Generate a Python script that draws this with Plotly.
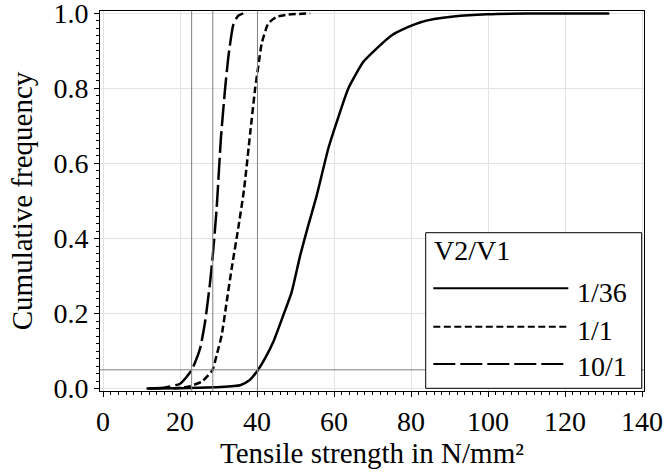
import plotly.graph_objects as go

# ---- data ----
series_names = ["1/36", "1/1", "10/1"]

x_1_36 = [11.3, 20.0, 25.0, 30.4, 35.6, 38.0, 40.2, 42.2, 44.2, 46.8, 49.0, 51.2, 53.3,
          55.5, 58.5, 60.7, 63.7, 67.6, 71.1, 75.0, 79.3, 82.3, 86.0, 91.0, 99.7, 110.0, 131.5]
y_1_36 = [0.0, 0.001, 0.002, 0.004, 0.009, 0.022, 0.049, 0.083, 0.124, 0.195, 0.258, 0.355, 0.435,
          0.515, 0.64, 0.711, 0.8, 0.871, 0.907, 0.942, 0.964, 0.976, 0.985, 0.992, 0.998, 1.0, 1.0]

x_1_1 = [18.3, 21.7, 25.6, 28.4, 29.5, 30.8, 32.1, 33.4, 35.1, 36.6, 38.2, 39.5, 40.3,
         41.2, 42.9, 45.1, 48.0, 53.8]
y_1_1 = [0.0, 0.004, 0.018, 0.049, 0.089, 0.142, 0.231, 0.32, 0.427, 0.53, 0.68, 0.8, 0.858,
         0.92, 0.973, 0.991, 0.997, 1.0]

x_10_1 = [11.8, 15.7, 20.0, 23.0, 25.2, 26.5, 27.8, 28.5, 29.5, 30.6, 31.7, 32.6, 33.8, 35.0, 36.4]
y_10_1 = [0.0, 0.002, 0.013, 0.049, 0.107, 0.178, 0.284, 0.355, 0.48, 0.667, 0.8, 0.889, 0.969, 0.993, 1.0]

quantile_5pct = [23.0, 28.5, 40.1]   # 5 % quantiles (vertical reference lines)
level_5pct = 0.05                   # horizontal reference line

x_ticks = [0, 20, 40, 60, 80, 100, 120, 140]
y_ticks = [0.0, 0.2, 0.4, 0.6, 0.8, 1.0]

# ---- styling ----
FONT = "Liberation Serif"
FS = 28
dashes = ["solid", "7px,3.5px", "22px,5px"]
font_main = dict(family=FONT, size=FS, color="black")
font_title = dict(family=FONT, size=29, color="black")

fig = go.Figure()
for name, xs, ys, dash in zip(series_names,
                              [x_1_36, x_1_1, x_10_1],
                              [y_1_36, y_1_1, y_10_1],
                              dashes):
    fig.add_trace(go.Scatter(x=xs, y=ys, mode="lines", name=name,
                             line=dict(color="black", width=2.5, dash=dash,
                                       shape="spline", smoothing=0.5),
                             showlegend=False))

# reference lines
for q in quantile_5pct:
    fig.add_shape(type="line", xref="x", yref="paper", x0=q, x1=q, y0=0, y1=1,
                  line=dict(color="#808080", width=1), layer="above")
fig.add_shape(type="line", xref="paper", yref="y", x0=0, x1=1, y0=level_5pct, y1=level_5pct,
              line=dict(color="#808080", width=1), layer="above")

# manual legend (long line samples as in the reference)
fig.add_shape(type="rect", xref="paper", yref="paper", x0=0.5987, x1=0.9958, y0=0.0071, y1=0.4166,
              line=dict(color="black", width=1), fillcolor="white", layer="above")
fig.add_annotation(xref="paper", yref="paper", x=0.6103, y=0.371, text="V2/V1", showarrow=False,
                   xanchor="left", yanchor="middle", font=font_main)
leg_line_y = [0.2703, 0.1692, 0.0711]
leg_text_y = [0.2597, 0.1605, 0.0632]
for name, dash, ly, ty in zip(series_names, dashes, leg_line_y, leg_text_y):
    fig.add_shape(type="line", xref="paper", yref="paper", x0=0.6127, x1=0.8608, y0=ly, y1=ly,
                  line=dict(color="black", width=2, dash=dash), layer="above")
    fig.add_annotation(xref="paper", yref="paper", x=0.8732, y=ty, text=name, showarrow=False,
                       xanchor="left", yanchor="middle", font=font_main)

axis_common = dict(showline=True, linecolor="black", linewidth=1, mirror=True,
                   showgrid=True, gridcolor="#e3e3e3", gridwidth=1, zeroline=False,
                   ticks="outside", ticklen=5, tickcolor="black", tickwidth=1,
                   automargin=False, ticklabeloverflow="allow", tickfont=font_main)

fig.update_xaxes(range=[-0.8, 140.5], tickmode="array", tickvals=x_ticks,
                 ticktext=[str(v) for v in x_ticks],
                 minor=dict(ticks="outside", ticklen=3, dtick=2, tick0=0, tickcolor="black", showgrid=False),
                 title=dict(text="Tensile strength in N/mm²", font=font_title, standoff=2),
                 **axis_common)
fig.update_yaxes(range=[-0.0065, 1.0065], tickmode="array", tickvals=y_ticks,
                 ticktext=[f"{v:.1f}" for v in y_ticks],
                 minor=dict(ticks="outside", ticklen=3, dtick=0.02, tick0=0, tickcolor="black", showgrid=False),
                 title=dict(text="Cumulative frequency", font=font_title, standoff=12),
                 **axis_common)

fig.update_layout(template="none", width=665, height=473, margin=dict(l=100, r=21, t=11, b=82),
                  paper_bgcolor="white", plot_bgcolor="white", showlegend=False,
                  font=font_main)

fig.write_html("out.html", config={"displayModeBar": False},
               post_script="document.body.style.margin='0';")
